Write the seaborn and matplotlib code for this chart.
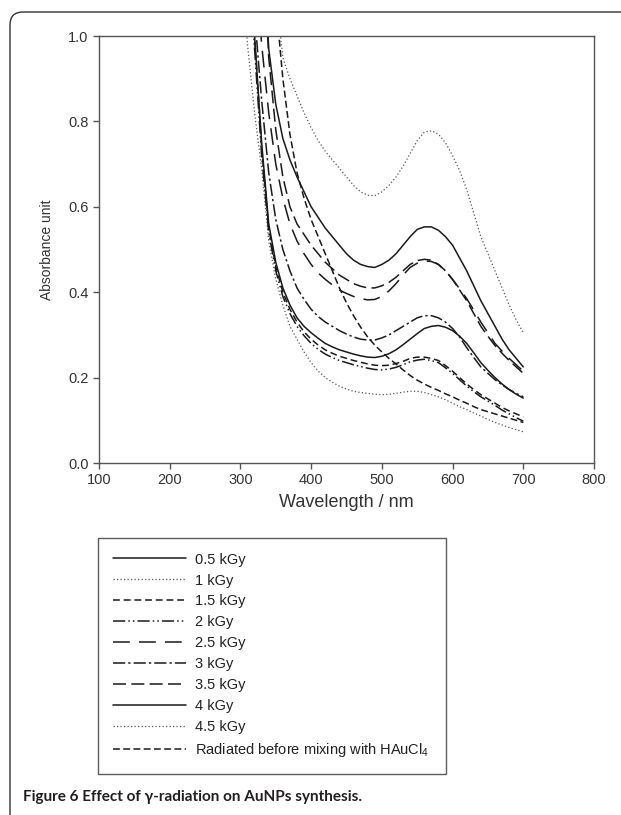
import seaborn as sns
import matplotlib.pyplot as plt
from matplotlib.patches import FancyBboxPatch
import pandas as pd

# wavelength grid (nm) and absorbance
wavelength = list(range(300, 701, 10))

kgy_05 = [1.6, 1.3, 1.0, 0.75, 0.56, 0.47, 0.41, 0.37, 0.34, 0.32, 0.305, 0.292, 0.28, 0.272,
          0.265, 0.26, 0.255, 0.251, 0.248, 0.247, 0.25, 0.256, 0.265, 0.277, 0.29, 0.303,
          0.315, 0.32, 0.322, 0.318, 0.31, 0.297, 0.28, 0.258, 0.235, 0.217, 0.2, 0.185,
          0.172, 0.161, 0.152]
kgy_1 = [1.2, 0.98, 0.82, 0.69, 0.52, 0.43, 0.37, 0.32, 0.29, 0.26, 0.235, 0.215, 0.2, 0.189,
         0.18, 0.173, 0.168, 0.165, 0.163, 0.161, 0.16, 0.161, 0.163, 0.166, 0.168, 0.168,
         0.165, 0.16, 0.155, 0.148, 0.14, 0.132, 0.125, 0.117, 0.11, 0.102, 0.095, 0.089,
         0.083, 0.078, 0.073]
kgy_15 = [1.6, 1.3, 1.0, 0.74, 0.55, 0.46, 0.40, 0.36, 0.33, 0.307, 0.29, 0.276, 0.265, 0.257,
          0.25, 0.245, 0.24, 0.236, 0.232, 0.229, 0.228, 0.229, 0.233, 0.238, 0.245, 0.248,
          0.248, 0.245, 0.24, 0.228, 0.215, 0.2, 0.185, 0.172, 0.16, 0.15, 0.14, 0.13,
          0.122, 0.115, 0.108]
kgy_2 = [1.55, 1.25, 0.97, 0.72, 0.54, 0.45, 0.39, 0.35, 0.32, 0.298, 0.28, 0.266, 0.255, 0.247,
         0.24, 0.235, 0.23, 0.226, 0.222, 0.219, 0.218, 0.22, 0.224, 0.23, 0.237, 0.241,
         0.243, 0.24, 0.235, 0.223, 0.21, 0.195, 0.18, 0.167, 0.155, 0.145, 0.135, 0.124,
         0.115, 0.106, 0.098]
kgy_25 = [1.8, 1.5, 1.2, 0.98, 0.82, 0.70, 0.62, 0.56, 0.52, 0.49, 0.465, 0.445, 0.43, 0.417,
          0.405, 0.397, 0.39, 0.385, 0.382, 0.383, 0.39, 0.403, 0.42, 0.44, 0.458, 0.468,
          0.473, 0.472, 0.465, 0.45, 0.43, 0.408, 0.385, 0.358, 0.33, 0.305, 0.28, 0.262,
          0.245, 0.23, 0.215]
kgy_3 = [1.6, 1.3, 1.05, 0.85, 0.68, 0.57, 0.5, 0.45, 0.41, 0.383, 0.36, 0.343, 0.33, 0.32,
         0.31, 0.302, 0.295, 0.29, 0.288, 0.288, 0.293, 0.3, 0.31, 0.32, 0.33, 0.34,
         0.345, 0.345, 0.34, 0.33, 0.315, 0.295, 0.27, 0.247, 0.225, 0.21, 0.195, 0.183,
         0.172, 0.163, 0.155]
kgy_35 = [2.0, 1.7, 1.5, 1.3, 0.95, 0.78, 0.67, 0.6, 0.56, 0.535, 0.51, 0.49, 0.47, 0.455,
          0.44, 0.43, 0.42, 0.414, 0.41, 0.41, 0.415, 0.423, 0.435, 0.45, 0.465, 0.474,
          0.477, 0.475, 0.465, 0.45, 0.43, 0.405, 0.38, 0.35, 0.32, 0.297, 0.275, 0.257,
          0.24, 0.225, 0.21]
kgy_4 = [2.2, 1.9, 1.6, 1.3, 0.97, 0.84, 0.76, 0.71, 0.67, 0.635, 0.6, 0.575, 0.55, 0.53,
         0.51, 0.49, 0.475, 0.465, 0.46, 0.458, 0.465, 0.475, 0.49, 0.51, 0.53, 0.547,
         0.553, 0.553, 0.545, 0.53, 0.51, 0.48, 0.45, 0.415, 0.38, 0.35, 0.32, 0.29,
         0.265, 0.245, 0.225]
kgy_45 = [2.5, 2.2, 1.9, 1.7, 1.5, 1.1, 0.95, 0.9, 0.86, 0.82, 0.785, 0.755, 0.73, 0.71,
          0.69, 0.67, 0.65, 0.635, 0.627, 0.626, 0.635, 0.65, 0.67, 0.695, 0.725, 0.755,
          0.775, 0.778, 0.77, 0.75, 0.72, 0.685, 0.64, 0.585, 0.53, 0.49, 0.45, 0.41,
          0.37, 0.335, 0.305]
radiated = [2.5, 2.2, 1.9, 1.7, 1.4, 1.08, 0.9, 0.77, 0.68, 0.62, 0.57, 0.53, 0.49, 0.45,
            0.41, 0.375, 0.345, 0.318, 0.295, 0.276, 0.26, 0.245, 0.232, 0.218, 0.205, 0.194,
            0.185, 0.177, 0.17, 0.162, 0.155, 0.147, 0.14, 0.132, 0.125, 0.12, 0.115, 0.11,
            0.105, 0.1, 0.095]

labels = ['0.5 kGy', '1 kGy', '1.5 kGy', '2 kGy', '2.5 kGy', '3 kGy', '3.5 kGy',
          '4 kGy', '4.5 kGy', r'Radiated before mixing with HAuCl$_4$']
series = [kgy_05, kgy_1, kgy_15, kgy_2, kgy_25, kgy_3, kgy_35, kgy_4, kgy_45, radiated]

# line styles per series
dark = '#1a1a1a'
grey = '#555555'
styles = [
    ('-', dark, 1.1),
    ((0, (1, 1.8)), grey, 0.9),
    ((0, (4.5, 2.5)), dark, 1.1),
    ((0, (8, 2, 1, 2, 1, 2)), dark, 1.1),
    ((0, (11, 6)), dark, 1.1),
    ((0, (8, 2, 1.5, 2)), dark, 1.1),
    ((0, (8.5, 3.5)), dark, 1.1),
    ('-', dark, 1.1),
    ((0, (1, 1.8)), grey, 0.9),
    ((0, (4.5, 2.2)), dark, 1.1),
]

sns.set_style('ticks')
plt.rcParams['font.family'] = ['Liberation Sans', 'DejaVu Sans']
plt.rcParams['mathtext.default'] = 'regular'

fig = plt.figure(figsize=(6.21, 8.15), dpi=100)
ax = fig.add_axes([99 / 621, 1 - 463 / 815, 495 / 621, 427 / 815])

for lab, vals, (ls, col, lw) in zip(labels, series, styles):
    df = pd.DataFrame({'Wavelength': wavelength, 'Absorbance': vals})
    sns.lineplot(data=df, x='Wavelength', y='Absorbance', ax=ax, color=col,
                 linewidth=lw, linestyle=ls, label=lab)

handles, hlabels = ax.get_legend_handles_labels()
ax.get_legend().remove()

ax.set_xlim(100, 800)
ax.set_ylim(0, 1.0)
ax.set_xticks(range(100, 801, 100))
ax.set_yticks([0.0, 0.2, 0.4, 0.6, 0.8, 1.0])
ax.set_yticklabels(['0.0', '0.2', '0.4', '0.6', '0.8', '1.0'])
for s in ax.spines.values():
    s.set_color('#555555')
    s.set_linewidth(1.0)
ax.tick_params(direction='out', length=4.5, width=1.0, color='#555555',
               labelsize=10.5, labelcolor='#333333', pad=3)
ax.set_xlabel('Wavelength / nm', fontsize=13, color='#333333', labelpad=5)
ax.set_ylabel('Absorbance unit', fontsize=10, color='#333333', labelpad=10)

leg = fig.legend(handles, hlabels, loc='upper left',
                 bbox_to_anchor=(98 / 621, 1 - 538 / 815, 348 / 621, 0.0),
                 mode='expand', fontsize=10.5, handlelength=5.0,
                 handletextpad=0.65, labelspacing=0.475, borderpad=1.0,
                 frameon=True, fancybox=False, borderaxespad=0)
leg.get_frame().set_edgecolor('#333333')
leg.get_frame().set_linewidth(1.0)
for t in leg.get_texts():
    t.set_color('#222222')

# outer rounded panel frame
frame = FancyBboxPatch((0.10, -0.3), 7.0, 8.15 - 0.12 + 0.3,
                       boxstyle='round,pad=0,rounding_size=0.13',
                       transform=fig.dpi_scale_trans, fill=False,
                       edgecolor='#333333', linewidth=1.0)
fig.patches.append(frame)

fig.text(23 / 621, 1 - 797 / 815, 'Figure 6 Effect of γ-radiation on AuNPs synthesis.',
         fontsize=11, fontweight='bold', family=['Lato', 'DejaVu Sans'],
         color='#231f20', va='center', ha='left')

fig.savefig('out.png', dpi=100)
